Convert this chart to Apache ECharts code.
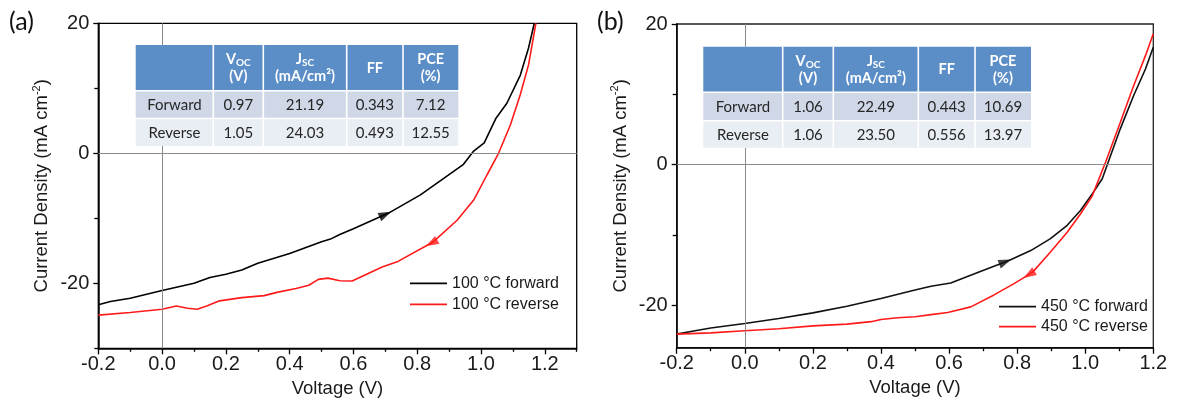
<!DOCTYPE html>
<html><head><meta charset="utf-8">
<script src="https://cdn.jsdelivr.net/npm/echarts@6/dist/echarts.min.js"></script>
<style>html,body{margin:0;padding:0;background:#fff}#c{width:1193px;height:406px}</style>
</head><body><div id="c"></div><script>
// ---------- data (a) 100 °C ----------
const nameFA = '100 °C forward';
const nameRA = '100 °C reverse';
const vForwardA = [-0.2,-0.162,-0.1,0,0.1,0.15,0.2,0.25,0.3,0.4,0.5,0.528,0.557,0.6,0.71,0.81,0.883,0.945,0.977,1.01,1.047,1.081,1.123,1.149,1.167];
const jForwardA = [-23.3,-22.8,-22.3,-21.1,-20.0,-19.1,-18.6,-17.95,-16.9,-15.4,-13.6,-13.2,-12.5,-11.6,-9.2,-6.4,-3.85,-1.7,0.35,1.6,5.4,7.7,12.0,16.2,20];
const vReverseA = [-0.2,-0.1,0,0.045,0.08,0.11,0.14,0.18,0.25,0.32,0.36,0.42,0.46,0.49,0.52,0.557,0.596,0.69,0.737,0.851,0.925,0.977,1.019,1.055,1.092,1.123,1.149,1.172];
const jReverseA = [-24.9,-24.5,-24.0,-23.5,-23.85,-24.0,-23.5,-22.7,-22.2,-21.9,-21.4,-20.8,-20.3,-19.4,-19.2,-19.6,-19.65,-17.5,-16.7,-13.6,-10.3,-7.2,-3.3,0,4.35,9.0,13.6,20];
const arrowForwardA = [0.70, -9.4];
const arrowReverseA = [0.845, -13.8];

// ---------- data (b) 450 °C ----------
const nameFB = '450 °C forward';
const nameRB = '450 °C reverse';
const vForwardB = [-0.2,-0.146,-0.1,0,0.1,0.2,0.3,0.4,0.5,0.547,0.605,0.69,0.776,0.84,0.898,0.947,0.986,1.02,1.05,1.064,1.103,1.142,1.177,1.2];
const jForwardB = [-24.07,-23.6,-23.2,-22.56,-21.85,-21.05,-20.1,-19.0,-17.8,-17.26,-16.8,-15.2,-13.6,-12.2,-10.5,-8.6,-6.5,-4.2,-2.0,-0.1,5.1,9.8,13.6,16.7];
const vReverseB = [-0.2,-0.1,0,0.1,0.2,0.3,0.371,0.4,0.449,0.5,0.547,0.596,0.664,0.732,0.791,0.845,0.898,0.947,0.986,1.02,1.06,1.103,1.142,1.177,1.2];
const jReverseB = [-24.07,-23.9,-23.6,-23.3,-22.9,-22.65,-22.3,-22.0,-21.75,-21.6,-21.3,-21.0,-20.2,-18.5,-16.9,-15.3,-12.4,-9.6,-7.0,-4.5,0.4,6.0,11.2,15.5,18.6];
const arrowForwardB = [0.765, -13.8];
const arrowReverseB = [0.835, -15.6];

// ---------- axes ----------
const xRangeA = [-0.2, 1.3];
const xRangeB = [-0.2, 1.2];
const yRangeA = [-30, 20];
const yRangeB = [-26, 20];
const xMajor = [-0.2,0,0.2,0.4,0.6,0.8,1.0,1.2];
const xMinorA = [-0.1,0.1,0.3,0.5,0.7,0.9,1.1,1.3];
const xMinorB = [-0.1,0.1,0.3,0.5,0.7,0.9,1.1];
const yMajor = [-20,0,20];
const yMinorA = [-30,-10,10];
const yMinorB = [-10,10];
const xTitle = 'Voltage (V)';
const yTitleMain = 'Current Density (mA cm';
const yTitleSup = '-2';

// ---------- tables ----------
const headMain = ['', 'V', 'J', 'FF', 'PCE'];
const headSub = ['', 'OC', 'SC', '', ''];
const headUnit = ['', '(V)', '(mA/cm²)', '', '(%)'];
const rowForwardA = ['Forward', '0.97', '21.19', '0.343', '7.12'];
const rowReverseA = ['Reverse', '1.05', '24.03', '0.493', '12.55'];
const rowForwardB = ['Forward', '1.06', '22.49', '0.443', '10.69'];
const rowReverseB = ['Reverse', '1.06', '23.50', '0.556', '13.97'];

// ---------- layout / style ----------
const AX_FONT = '"Liberation Sans", Arial, sans-serif';
const TB_FONT = 'Lato, "Open Sans", sans-serif';
const gridA = {left: 98.3, top: 23.3, width: 478.4, height: 325};
const gridB = {left: 676.7, top: 24, width: 476.6, height: 323.7};
const tableLayoutA = {cols: [135.7,213.3,263.3,346.7,403,458.3], rows: [45,90.7,118.5,146]};
const tableLayoutB = {cols: [703.3,782.7,833.3,918.3,975,1031], rows: [46.7,92.3,120.7,147.7]};

function zip(a, b) { return a.map((v, i) => [v, b[i]]); }

function xAxes(gridIndex, range, minor) {
  return [{
    type: 'value', gridIndex, min: range[0], max: range[1], position: 'bottom',
    splitLine: {show: false},
    axisLine: {onZero: false, lineStyle: {color: '#000', width: 1.5}},
    axisTick: {inside: false, length: 6, customValues: xMajor, lineStyle: {color: '#000', width: 1.3}},
    axisLabel: {customValues: xMajor, formatter: v => v.toFixed(1), fontSize: 20, fontFamily: AX_FONT, color: '#1a1a1a', margin: 6},
    name: xTitle, nameLocation: 'middle', nameGap: 30,
    nameTextStyle: {fontSize: 18.5, fontFamily: AX_FONT, color: '#1a1a1a'}
  }, {
    type: 'value', gridIndex, min: range[0], max: range[1], position: 'bottom',
    splitLine: {show: false}, axisLine: {show: false, onZero: false},
    axisTick: {inside: false, length: 3.5, customValues: minor, lineStyle: {color: '#000', width: 1.3}},
    axisLabel: {show: false}
  }];
}
function yAxes(gridIndex, range, minor) {
  return [{
    type: 'value', gridIndex, min: range[0], max: range[1], position: 'left',
    splitLine: {show: false},
    axisLine: {onZero: false, lineStyle: {color: '#000', width: 1.5}},
    axisTick: {inside: false, length: 5, customValues: yMajor, lineStyle: {color: '#000', width: 1.3}},
    axisLabel: {customValues: yMajor, fontSize: 20, fontFamily: AX_FONT, color: '#1a1a1a', margin: 9},
    name: '{t|' + yTitleMain + '}{s|' + yTitleSup + '}{t|)}',
    nameLocation: 'middle', nameRotate: 90, nameGap: 45,
    nameTextStyle: {rich: {
      t: {fontSize: 18.5, fontFamily: AX_FONT, color: '#1a1a1a', lineHeight: 22},
      s: {fontSize: 11, fontFamily: AX_FONT, color: '#1a1a1a', verticalAlign: 'top', lineHeight: 12}
    }}
  }, {
    type: 'value', gridIndex, min: range[0], max: range[1], position: 'left',
    splitLine: {show: false}, axisLine: {show: false, onZero: false},
    axisTick: {inside: false, length: 4, customValues: minor, lineStyle: {color: '#000', width: 1.3}},
    axisLabel: {show: false}
  }];
}

function curve(name, xi, yi, v, j, color, withZero) {
  const s = {
    name, type: 'line', xAxisIndex: xi, yAxisIndex: yi, data: zip(v, j),
    showSymbol: false, symbol: 'none', color, itemStyle: {color},
    lineStyle: {color, width: 1.6}, z: 3, silent: true
  };
  if (withZero) {
    s.markLine = {
      silent: true, symbol: ['none', 'none'], label: {show: false}, animation: false,
      lineStyle: {color: '#8a8a8a', width: 1, type: 'solid'},
      data: [{xAxis: 0}, {yAxis: 0}]
    };
  }
  return s;
}
function arrow(xi, yi, p, color) {
  return {
    type: 'scatter', xAxisIndex: xi, yAxisIndex: yi, symbol: 'triangle', symbolSize: [9, 13],
    itemStyle: {color}, data: [{value: p, symbolRotate: 0}], z: 5, silent: true
  };
}

function tableGraphics(layout, rowsData) {
  const els = [];
  const c = layout.cols, r = layout.rows, g = 0.8;
  els.push({type: 'rect', shape: {x: c[0], y: r[0], width: c[c.length-1]-c[0], height: r[r.length-1]-r[0]}, style: {fill: '#fff'}, z: 100});
  const fills = ['#5b8ec7', '#d0d8e8', '#e9edf4'];
  for (let ri = 0; ri < 3; ri++) {
    for (let ci = 0; ci < c.length - 1; ci++) {
      const x0 = c[ci] + (ci > 0 ? g : 0), x1 = c[ci+1] - (ci < c.length - 2 ? g : 0);
      const y0 = r[ri] + (ri > 0 ? g : 0), y1 = r[ri+1] - (ri < 2 ? g : 0);
      els.push({type: 'rect', shape: {x: x0, y: y0, width: x1 - x0, height: y1 - y0}, style: {fill: fills[ri]}, z: 101});
      const cx = (c[ci] + c[ci+1]) / 2, cy = (r[ri] + r[ri+1]) / 2;
      let style;
      if (ri === 0) {
        if (!headMain[ci]) continue;
        let text = '{m|' + headMain[ci] + '}' + (headSub[ci] ? '{s|' + headSub[ci] + '}' : '');
        if (headUnit[ci]) text += '\n{m|' + headUnit[ci] + '}';
        style = {text, x: cx, y: cy, align: 'center', verticalAlign: 'middle', fill: '#fff',
          rich: {
            m: {fontSize: 14.5, fontWeight: 'bold', fontFamily: TB_FONT, fill: '#fff', lineHeight: 17},
            s: {fontSize: 10, fontWeight: 'bold', fontFamily: TB_FONT, fill: '#fff', lineHeight: 17, verticalAlign: 'bottom', padding: [5, 0, 0, 0]}
          }};
      } else {
        style = {text: rowsData[ri-1][ci], x: cx, y: cy + 0.5, align: 'center', verticalAlign: 'middle',
          fill: '#262626', fontSize: 15, fontFamily: TB_FONT};
      }
      els.push({type: 'text', style, z: 102});
    }
  }
  return els;
}

const chart = echarts.init(document.getElementById('c'), null, {renderer: 'canvas'});
const option = {
  animation: false,
  backgroundColor: '#fff',
  grid: [
    Object.assign({show: true, borderColor: '#000', borderWidth: 1.3, backgroundColor: 'transparent'}, gridA),
    Object.assign({show: true, borderColor: '#222', borderWidth: 1.3, backgroundColor: 'transparent'}, gridB)
  ],
  xAxis: [...xAxes(0, xRangeA, xMinorA), ...xAxes(1, xRangeB, xMinorB)],
  yAxis: [...yAxes(0, yRangeA, yMinorA), ...yAxes(1, yRangeB, yMinorB)],
  legend: [{
    data: [nameFA, nameRA], orient: 'vertical', left: 410, top: 272.8, padding: 0, itemGap: 0,
    icon: 'rect', itemWidth: 37, itemHeight: 1.8, selectedMode: false,
    textStyle: {fontSize: 16, fontFamily: AX_FONT, color: '#1a1a1a', lineHeight: 21}
  }, {
    data: [nameFB, nameRB], orient: 'vertical', left: 999, top: 296.7, padding: 0, itemGap: 0,
    icon: 'rect', itemWidth: 37, itemHeight: 1.8, selectedMode: false,
    textStyle: {fontSize: 16, fontFamily: AX_FONT, color: '#1a1a1a', lineHeight: 20}
  }],
  series: [
    curve(nameFA, 0, 0, vForwardA, jForwardA, '#000', true),
    curve(nameRA, 0, 0, vReverseA, jReverseA, '#ff1a1a', false),
    curve(nameFB, 2, 2, vForwardB, jForwardB, '#111', true),
    curve(nameRB, 2, 2, vReverseB, jReverseB, '#ff1a1a', false),
    arrow(0, 0, arrowForwardA, '#000'),
    arrow(0, 0, arrowReverseA, '#ff1a1a'),
    arrow(2, 2, arrowForwardB, '#111'),
    arrow(2, 2, arrowReverseB, '#ff1a1a')
  ],
  graphic: [
    {type: 'text', left: 9, top: 9, style: {text: '(a)', fontSize: 25, fontFamily: TB_FONT, fill: '#111'}, z: 110},
    {type: 'text', left: 597, top: 9, style: {text: '(b)', fontSize: 25, fontFamily: TB_FONT, fill: '#111'}, z: 110},
    ...tableGraphics(tableLayoutA, [rowForwardA, rowReverseA]),
    ...tableGraphics(tableLayoutB, [rowForwardB, rowReverseB])
  ]
};
chart.setOption(option);

// orient arrowheads along the curves (forward: increasing V, reverse: decreasing V)
function angleAt(seriesIndex, v, j, p, forward) {
  let k = 0;
  while (k < v.length - 2 && v[k+1] < p[0]) k++;
  const a = chart.convertToPixel({seriesIndex}, [v[k], j[k]]);
  const b = chart.convertToPixel({seriesIndex}, [v[k+1], j[k+1]]);
  let dx = b[0] - a[0], dy = b[1] - a[1];
  if (!forward) { dx = -dx; dy = -dy; }
  return Math.atan2(-dy, dx) * 180 / Math.PI - 90;
}
const rot = [
  angleAt(0, vForwardA, jForwardA, arrowForwardA, true),
  angleAt(1, vReverseA, jReverseA, arrowReverseA, false),
  angleAt(2, vForwardB, jForwardB, arrowForwardB, true),
  angleAt(3, vReverseB, jReverseB, arrowReverseB, false)
];
const arrows = [arrowForwardA, arrowReverseA, arrowForwardB, arrowReverseB];
chart.setOption({series: [{}, {}, {}, {},
  ...arrows.map((p, i) => ({data: [{value: p, symbolRotate: rot[i]}]}))]});
</script></body></html>
